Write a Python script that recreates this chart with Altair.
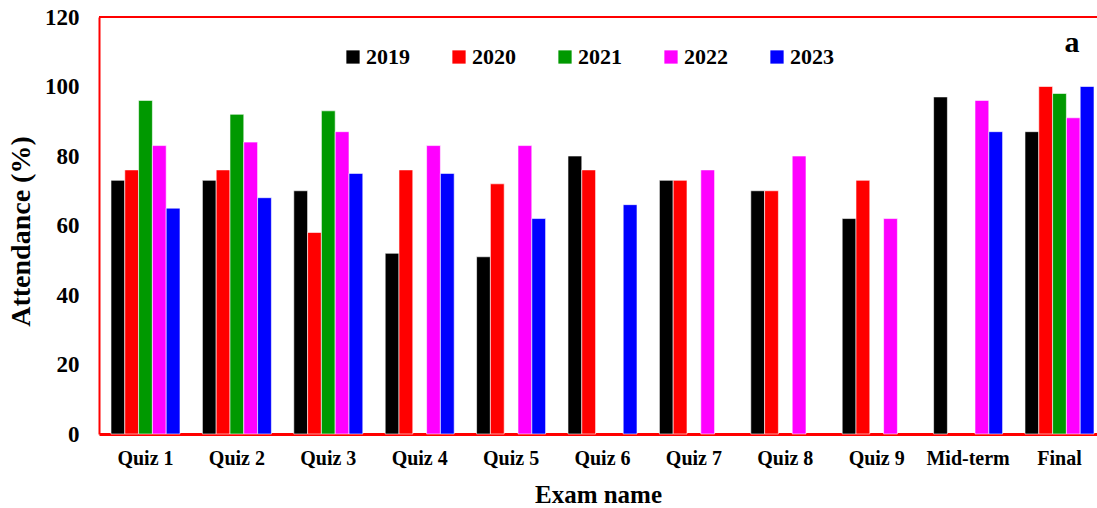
import altair as alt
import pandas as pd

# Exam attendance (%) per academic year
exams = ["Quiz 1", "Quiz 2", "Quiz 3", "Quiz 4", "Quiz 5", "Quiz 6",
         "Quiz 7", "Quiz 8", "Quiz 9", "Mid-term", "Final"]
years = ["2019", "2020", "2021", "2022", "2023"]
colors = ["#000000", "#FF0000", "#009900", "#FF00FF", "#0000FF"]

att_2019 = [73, 73, 70, 52, 51, 80, 73, 70, 62, 97, 87]
att_2020 = [76, 76, 58, 76, 72, 76, 73, 70, 73, None, 100]
att_2021 = [96, 92, 93, None, None, None, None, None, None, None, 98]
att_2022 = [83, 84, 87, 83, 83, None, 76, 80, 62, 96, 91]
att_2023 = [65, 68, 75, 75, 62, 66, None, None, None, 87, 100]

series = [att_2019, att_2020, att_2021, att_2022, att_2023]
rows = []
for year, values in zip(years, series):
    for exam, v in zip(exams, values):
        if v is not None:
            rows.append({"exam": exam, "year": year, "attendance": v})
df = pd.DataFrame(rows)

W, H = 998, 417
FONT = "Liberation Serif"

bars = alt.Chart(df).mark_bar(stroke="white", strokeWidth=0.6).encode(
    x=alt.X(
        "exam:N",
        sort=exams,
        scale=alt.Scale(paddingInner=0.245, paddingOuter=0.082, align=0.8),
        axis=alt.Axis(
            title="Exam name",
            labelAngle=0,
            ticks=False,
            labelPadding=14,
            labelFont=FONT,
            labelFontSize=20,
            labelFontWeight="bold",
            labelColor="black",
            domainColor="#FF0000",
            domainWidth=3,
            titleFont=FONT,
            titleFontSize=25,
            titleFontWeight="bold",
            titleColor="black",
            titleY=68,
            titleBaseline="alphabetic",
        ),
    ),
    xOffset=alt.XOffset("year:N", sort=years, scale=alt.Scale(paddingInner=0, paddingOuter=0)),
    y=alt.Y(
        "attendance:Q",
        scale=alt.Scale(domain=[0, 120], nice=False),
        axis=alt.Axis(
            title="Attendance (%)",
            values=[0, 20, 40, 60, 80, 100, 120],
            grid=False,
            ticks=False,
            labelPadding=20,
            labelFont=FONT,
            labelFontSize=23,
            labelFontWeight="bold",
            labelColor="black",
            domainColor="#FF0000",
            domainWidth=2,
            titleFont=FONT,
            titleFontSize=28,
            titleFontWeight="bold",
            titleColor="black",
            titleAngle=-90,
            titleAlign="center",
            titleBaseline="middle",
            titleX=-78,
            titleY=214,
        ),
    ),
    color=alt.Color(
        "year:N",
        sort=years,
        scale=alt.Scale(domain=years, range=colors),
        legend=alt.Legend(
            title=None,
            orient="none",
            direction="horizontal",
            columns=5,
            legendX=243,
            legendY=29,
            padding=0,
            symbolType="square",
            symbolSize=176,
            symbolStrokeWidth=0,
            symbolOpacity=1,
            labelOffset=2,
            columnPadding=38,
            labelFont=FONT,
            labelFontSize=22,
            labelFontWeight="bold",
            labelColor="black",
        ),
    ),
)

# Top edge of the plot frame
top_border = alt.Chart(df).mark_rule(color="#FF0000", strokeWidth=2).encode(
    x=alt.value(0), x2=alt.value(W), y=alt.value(0)
)

# Panel tag
panel_tag = alt.Chart(pd.DataFrame({"t": ["a"]})).mark_text(
    font=FONT, fontSize=30, fontWeight="bold", color="black", align="center", baseline="alphabetic"
).encode(x=alt.value(973), y=alt.value(35), text="t:N")

chart = alt.layer(bars, top_border, panel_tag).properties(
    width=W,
    height=H,
    autosize=alt.AutoSizeParams(type="none"),
    padding={"left": 99, "top": 17, "right": 0, "bottom": 74},
).configure(
    font=FONT,
    background="white",
).configure_view(stroke=None)

chart.save("out.html", embed_options={"renderer": "svg", "actions": False})
